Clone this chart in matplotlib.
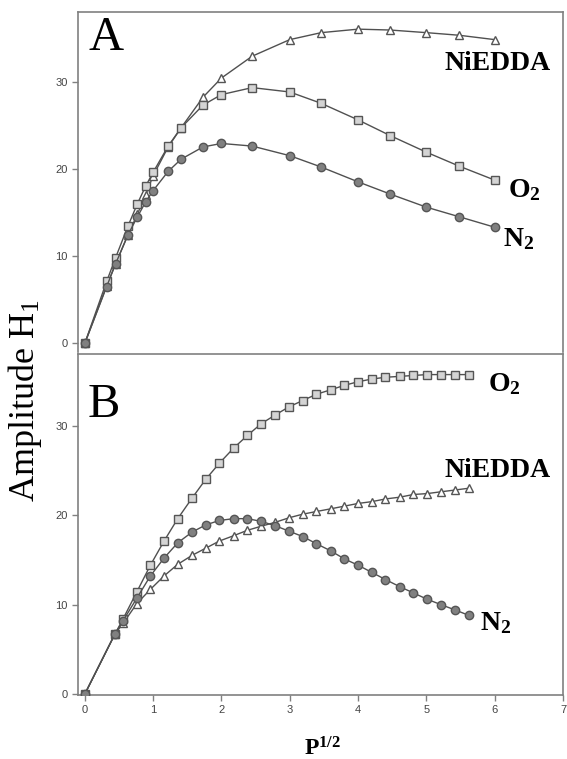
import matplotlib
matplotlib.use("Agg")
import matplotlib.pyplot as plt

# ---- data ----
# panel A
xa = [0, 0.32, 0.45, 0.63, 0.77, 0.89, 1.0, 1.22, 1.41, 1.73, 2.0, 2.45,
      3.0, 3.46, 4.0, 4.47, 5.0, 5.48, 6.0]
a_niedda = [0, 6.6, 9.1, 12.4, 14.8, 17.0, 19.2, 22.5, 24.7, 28.2, 30.4, 32.9,
            34.8, 35.6, 36.0, 35.9, 35.6, 35.3, 34.8]
a_o2 = [0, 7.1, 9.8, 13.4, 16.0, 18.0, 19.6, 22.6, 24.7, 27.3, 28.5, 29.3,
        28.8, 27.5, 25.6, 23.8, 21.9, 20.3, 18.7]
a_n2 = [0, 6.5, 9.1, 12.4, 14.5, 16.2, 17.5, 19.7, 21.1, 22.5, 22.9, 22.6,
        21.5, 20.2, 18.5, 17.1, 15.6, 14.5, 13.3]

# panel B
xb = [0, 0.44, 0.56, 0.76, 0.96, 1.16, 1.36, 1.57, 1.77, 1.97, 2.18, 2.38,
      2.58, 2.79, 2.99, 3.19, 3.39, 3.60, 3.80, 4.00, 4.20, 4.40, 4.61, 4.81,
      5.01, 5.21, 5.42, 5.62]
b_o2 = [0, 6.7, 8.4, 11.4, 14.4, 17.1, 19.6, 21.9, 24.0, 25.8, 27.5, 28.9,
        30.2, 31.2, 32.1, 32.8, 33.5, 34.0, 34.5, 34.9, 35.2, 35.4, 35.5, 35.6,
        35.7, 35.7, 35.7, 35.7]
b_n2 = [0, 6.7, 8.2, 10.7, 13.2, 15.2, 16.9, 18.1, 18.9, 19.4, 19.6, 19.6,
        19.3, 18.8, 18.2, 17.6, 16.8, 16.0, 15.1, 14.4, 13.6, 12.8, 12.0, 11.3,
        10.6, 10.0, 9.4, 8.8]
b_niedda = [0, 6.7, 7.9, 10.1, 11.7, 13.2, 14.5, 15.5, 16.3, 17.1, 17.7, 18.3,
            18.75, 19.2, 19.7, 20.1, 20.4, 20.7, 21.0, 21.3, 21.5, 21.8, 22.0,
            22.3, 22.4, 22.6, 22.8, 23.0]

yticks = [0, 10, 20, 30]
xticks = [0, 1, 2, 3, 4, 5, 6, 7]

# ---- style ----
plt.rcParams["mathtext.fontset"] = "custom"
plt.rcParams["mathtext.rm"] = "Liberation Serif"
plt.rcParams["mathtext.it"] = "Liberation Serif:italic"
plt.rcParams["mathtext.bf"] = "Liberation Serif:bold"

line_c = "#505050"
spine_c = "#808080"
tick_c = "#444444"
serif = "Liberation Serif"

styles = {
    "niedda": dict(marker="^", mfc="white", mec="#555555", ms=6),
    "o2": dict(marker="s", mfc="#d4d4d4", mec="#555555", ms=5.5),
    "n2": dict(marker="o", mfc="#808080", mec="#555555", ms=6),
}

fig = plt.figure(figsize=(5.67, 7.59), dpi=100)
left, right = 78 / 567, 563 / 567
ax1 = fig.add_axes([left, 1 - 352 / 759, right - left, (352 - 11.7) / 759])
ax2 = fig.add_axes([left, 1 - 694.5 / 759, right - left, (694.5 - 354) / 759])


def setup(ax):
    for s in ax.spines.values():
        s.set_color(spine_c)
        s.set_linewidth(1.2)
    ax.set_xlim(-0.1, 7)
    ax.set_yticks(yticks)
    ax.tick_params(axis="both", direction="out", length=4, width=1,
                   color=spine_c, labelcolor=tick_c, labelsize=8)
    for lab in ax.get_yticklabels() + ax.get_xticklabels():
        lab.set_family("Liberation Sans")


# panel A
ax1.plot(xa, a_niedda, color=line_c, lw=1, **styles["niedda"])
ax1.plot(xa, a_o2, color=line_c, lw=1, **styles["o2"])
ax1.plot(xa, a_n2, color=line_c, lw=1, **styles["n2"])
ax1.set_ylim(-1.0, 38)
ax1.set_xticks([])
setup(ax1)
ax1.spines["bottom"].set_visible(False)
ax1.text(5.27, 31.3, "NiEDDA", family=serif, weight="bold", fontsize=20,
         va="baseline")
ax1.text(6.2, 16.7, r"$\mathbf{O_2}$", fontsize=20, va="baseline")
ax1.text(6.12, 11.1, r"$\mathbf{N_2}$", fontsize=20, va="baseline")
ax1.text(0.021, 0.887, "A", transform=ax1.transAxes, family=serif,
         fontsize=35, va="baseline")

# panel B
ax2.plot(xb, b_niedda, color=line_c, lw=1, **styles["niedda"])
ax2.plot(xb, b_o2, color=line_c, lw=1, **styles["o2"])
ax2.plot(xb, b_n2, color=line_c, lw=1, **styles["n2"])
ax2.set_ylim(-0.05, 38)
ax2.set_xticks(xticks)
setup(ax2)
for s in ax2.spines.values():
    s.set_zorder(0)
ax2.text(5.27, 24.2, "NiEDDA", family=serif, weight="bold", fontsize=20,
         va="baseline")
ax2.text(5.9, 33.8, r"$\mathbf{O_2}$", fontsize=20, va="baseline")
ax2.text(5.79, 7.2, r"$\mathbf{N_2}$", fontsize=20, va="baseline")
ax2.text(0.019, 0.815, "B", transform=ax2.transAxes, family=serif,
         fontsize=35, va="baseline")

fig.text(25 / 567, 1 - 400 / 759, r"Amplitude H$_\mathrm{1}$", family=serif,
         fontsize=26, rotation=90, ha="center", va="center")
fig.text(323 / 567, 1 - 755 / 759, r"$\mathbf{P^{1/2}}$", fontsize=17,
         ha="center", va="baseline")

fig.savefig("out.png", dpi=100)
